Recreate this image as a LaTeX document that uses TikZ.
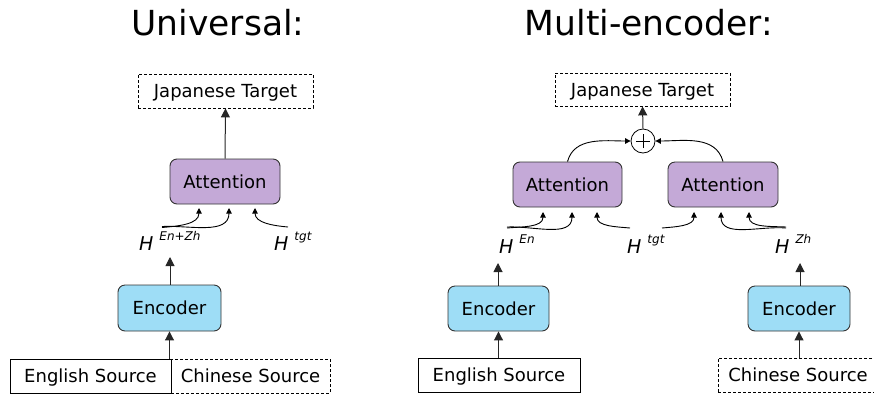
\documentclass[tikz,border=0pt]{standalone}
\usepackage{fontspec}
\setmainfont{DejaVu Sans}
\usetikzlibrary{arrows.meta}
\definecolor{attfill}{RGB}{196,169,215}
\definecolor{encfill}{RGB}{158,221,246}
\tikzset{
  x=1pt, y=-1pt,
  lbl/.style={font=\fontsize{18}{21}\selectfont, inner sep=0pt, text height=13.2pt, text depth=0pt},
  ttl/.style={font=\fontsize{34.5}{38}\selectfont, inner sep=0pt, anchor=base},
  dbox/.style={lbl, draw, dashed, line width=0.8pt, dash pattern=on 3pt off 2pt},
  sbox/.style={lbl, draw, line width=0.8pt},
  attbox/.style={lbl, draw=black!80, fill=attfill, rounded corners=7pt, line width=0.9pt},
  encbox/.style={lbl, draw=black!80, fill=encfill, rounded corners=7pt, line width=0.9pt},
  hid/.style={font=\fontsize{19}{21}\selectfont\itshape, inner sep=0pt, anchor=base west},
  bigarr/.style={draw=black!85, line width=1pt, -{Triangle[length=9pt,width=9pt]}},
  smallarr/.style={draw=black, line width=0.9pt, -{Triangle[length=5.5pt,width=5.5pt]}},
}
\newcommand{\hvec}[1]{H\hspace{6pt}\raisebox{9.5pt}{\fontsize{12}{13}\selectfont\itshape #1}}
\begin{document}
\begin{tikzpicture}
\useasboundingbox (0,0) rectangle (874,394);

% ---------- Universal ----------
\node[ttl] (t1) at (218,35) {Universal:};
\node[dbox, minimum width=175pt, minimum height=34pt] (jt1) at (225.5,91) {Japanese Target};
\node[attbox, minimum width=110pt, minimum height=45pt] (att1) at (225,181.5) {Attention};
\node[encbox, minimum width=103pt, minimum height=46pt] (enc1) at (169.5,308) {Encoder};
\node[sbox, minimum width=161pt, minimum height=34pt] (en1) at (90.5,376) {English Source};
\node[dbox, minimum width=159pt, minimum height=34pt] (zh1) at (250.5,376) {Chinese Source};
\node[hid] (h1) at (139,250) {\hvec{En+Zh}};
\node[hid] (h1t) at (274,250) {\hvec{tgt}};

\coordinate (h1s) at (162,227.5);
\coordinate (h1ts) at (288,227);
\coordinate (a1p1) at (199,208);
\coordinate (a1p2) at (229,208);
\coordinate (a1p3) at (255,208);
\coordinate (h1top) at (170,257);

\draw[bigarr] (att1.north) -- (jt1.south);
\draw[bigarr] (enc1.north -| h1top) -- (h1top);
\draw[bigarr] (en1.north east -| enc1.south) -- (enc1.south);
\draw[smallarr] (h1s) to[out=5,in=-90] (a1p1);
\draw[smallarr] ([yshift=1pt]h1s) to[out=3,in=-90] (a1p2);
\draw[smallarr] (h1ts) to[out=175,in=-90] (a1p3);

% ---------- Multi-encoder ----------
\node[ttl] (t2) at (649,35) {Multi-encoder:};
\node[dbox, minimum width=175pt, minimum height=33pt] (jt2) at (642.5,89.5) {Japanese Target};
\node[draw, circle, line width=0.8pt, minimum size=24pt, inner sep=0pt] (plus) at (643,141) {};
\draw[line width=1pt] ([xshift=-7pt]plus.center) -- ([xshift=7pt]plus.center)
  ([yshift=-7pt]plus.center) -- ([yshift=7pt]plus.center);
\node[attbox, minimum width=109pt, minimum height=45pt] (attL) at (567.5,184.5) {Attention};
\node[attbox, minimum width=110pt, minimum height=45pt] (attR) at (723,184.5) {Attention};
\node[encbox, minimum width=101pt, minimum height=45pt] (encL) at (498.5,308.5) {Encoder};
\node[encbox, minimum width=102pt, minimum height=45pt] (encR) at (799,308.5) {Encoder};
\node[sbox, minimum width=162pt, minimum height=34pt] (enL) at (499,375) {English Source};
\node[dbox, minimum width=160pt, minimum height=34pt] (zhR) at (798,375) {Chinese Source};
\node[hid] (hEn) at (499,253) {\hvec{En}};
\node[hid] (hTgt) at (627,253) {\hvec{tgt}};
\node[hid] (hZh) at (775,253) {\hvec{Zh}};

\coordinate (hEns) at (507,228);
\coordinate (hTgtL) at (630,228);
\coordinate (hTgtR) at (662,228);
\coordinate (hZhs) at (786,228);
\coordinate (aLp1) at (543,212);
\coordinate (aLp2) at (572,212);
\coordinate (aLp3) at (597,212);
\coordinate (aRp1) at (694,212);
\coordinate (aRp2) at (721,212);
\coordinate (aRp3) at (749,212);
\coordinate (hEntop) at (498,263);
\coordinate (hZhtop) at (800,263);

\draw[bigarr] (plus.north) -- (jt2.south);
\draw[smallarr] (attL.north) to[out=75,in=180] (plus.west);
\draw[smallarr] (attR.north) to[out=105,in=0] (plus.east);
\draw[smallarr] (hEns) to[out=5,in=-90] (aLp1);
\draw[smallarr] ([yshift=1pt]hEns) to[out=3,in=-90] (aLp2);
\draw[smallarr] (hTgtL) to[out=175,in=-90] (aLp3);
\draw[smallarr] (hTgtR) to[out=5,in=-90] (aRp1);
\draw[smallarr] (hZhs) to[out=175,in=-90] (aRp2);
\draw[smallarr] ([yshift=1pt]hZhs) to[out=177,in=-90] (aRp3);
\draw[bigarr] (encL.north -| hEntop) -- (hEntop);
\draw[bigarr] (encR.north -| hZhtop) -- (hZhtop);
\draw[bigarr] (enL.north -| encL.south) -- (encL.south);
\draw[bigarr] (zhR.north -| encR.south) -- (encR.south);
\end{tikzpicture}
\end{document}
